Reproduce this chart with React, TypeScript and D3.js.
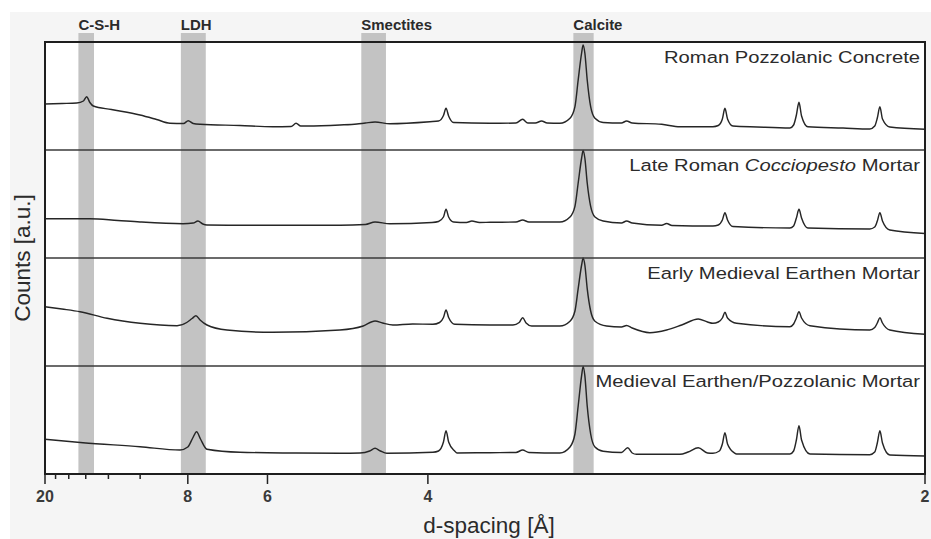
import React from "react";
import * as d3 from "d3";

// Cu K-alpha wavelength, used only to place d-spacing ticks on the 2-theta axis
const LAMBDA = 1.5406;
const twoTheta = (d: number) => (2 * Math.asin(LAMBDA / (2 * d)) * 180) / Math.PI;

const majorTicks = [20, 8, 6, 4, 2];
const minorTicks = [18, 16, 14, 12, 10];

// phase bands, in d-spacing [A] (upper, lower)
const bandNames = ["C-S-H", "LDH", "Smectites", "Calcite"];
const bandRanges: [number, number][] = [
  [14.8, 13.2],
  [8.24, 7.44],
  [4.64, 4.38],
  [3.08, 2.985],
];

const sampleNames = [
  "Roman Pozzolanic Concrete",
  "Late Roman Cocciopesto Mortar",
  "Early Medieval Earthen Mortar",
  "Medieval Earthen/Pozzolanic Mortar",
];

// [2theta (deg), counts a.u.]
const romanConcrete: [number, number][] = [
  [4.41, 46], [5.2, 46.5], [5.89, 47], [6.2, 49], [6.35, 53.3], [6.5, 47.5], [6.66, 44],
  [7.5, 40.5], [8.83, 35], [9.6, 30.5], [10.22, 26.7], [10.85, 26.5], [11.07, 29.3], [11.3, 26.5],
  [11.62, 25.7], [13.47, 24.5], [15.0, 23.3], [15.85, 23.5], [16.08, 26.7], [16.3, 24], [16.59, 24],
  [18.12, 25], [18.91, 26], [19.3, 27], [19.75, 28], [20.44, 26.3], [22.3, 28.3], [22.7, 29],
  [22.93, 34.5], [23.05, 41.7], [23.17, 34], [23.4, 27.5], [25.09, 26.7], [26.3, 27], [26.61, 30.7],
  [26.85, 27], [27.2, 27], [27.49, 29], [27.75, 27], [28.34, 26.7], [28.81, 31.7], [29.04, 43.3],
  [29.19, 70], [29.35, 97], [29.42, 105], [29.5, 97], [29.61, 70], [29.77, 43.3], [29.97, 31.7],
  [30.35, 27.5], [31.2, 27], [31.44, 29], [31.7, 27], [33.07, 25.7], [33.92, 23.3], [35.45, 23.3],
  [35.7, 24.5], [35.89, 31], [36.01, 41.7], [36.13, 31], [36.38, 24], [37.5, 23], [39.03, 22],
  [39.2, 25], [39.33, 35], [39.45, 47.7], [39.57, 34], [39.86, 23.3], [41.5, 22], [42.74, 21],
  [42.97, 24], [43.09, 32], [43.21, 43.3], [43.33, 31], [43.67, 23], [45.3, 20.7],
];

const lateRoman: [number, number][] = [
  [4.41, 39.3], [6.5, 39.3], [7.8, 37.5], [8.83, 36], [10.83, 34.3], [11.3, 35], [11.52, 37],
  [11.75, 34], [11.94, 33], [13.47, 32.7], [16, 32.7], [18.12, 32.7], [19.3, 33.5], [19.75, 36],
  [20.44, 34.3], [22.4, 35.5], [22.7, 36.5], [22.93, 41], [23.05, 48.7], [23.17, 41], [23.4, 36],
  [24.0, 35.5], [24.25, 37], [24.6, 35.5], [25.09, 35.7], [26.3, 36], [26.61, 38], [26.9, 36],
  [28.34, 36], [28.81, 41], [29.04, 51.6], [29.19, 75], [29.35, 100], [29.42, 107.5], [29.5, 100],
  [29.61, 75], [29.77, 51.6], [29.97, 41], [30.35, 37], [31.2, 35], [31.44, 37], [31.7, 35],
  [33.07, 32.7], [33.3, 34.5], [33.55, 32.5], [35.45, 32], [35.7, 33], [35.89, 38], [36.01, 45.3],
  [36.13, 38], [36.38, 31.5], [39.03, 30], [39.2, 32], [39.33, 40], [39.45, 48.7], [39.57, 40],
  [39.86, 30], [42.74, 29], [42.97, 31], [43.09, 37], [43.21, 45.3], [43.33, 37], [43.67, 28],
  [45.3, 24.5],
];

const earlyMedieval: [number, number][] = [
  [4.41, 59.3], [5.2, 57], [6.04, 54.3], [7.3, 47.7], [8.83, 42.7], [10.55, 40.3], [11.0, 43.5],
  [11.25, 47.5], [11.43, 50.3], [11.62, 46], [11.94, 41], [12.87, 36], [15.0, 33.7], [18.12, 36],
  [19.2, 40], [19.75, 45], [20.1, 43], [20.58, 41], [21.5, 42], [22.44, 41.7], [22.75, 43.5],
  [22.93, 48.5], [23.05, 56], [23.17, 48.5], [23.46, 41.7], [25.09, 41], [26.16, 41], [26.45, 43.5],
  [26.61, 48.3], [26.77, 43], [27.03, 40], [28.34, 40], [28.81, 44.8], [29.04, 55], [29.19, 77.4],
  [29.35, 101], [29.42, 108], [29.5, 101], [29.61, 77.4], [29.77, 55], [29.97, 44.8], [30.51, 40],
  [31.2, 39], [31.44, 40.5], [31.7, 38], [32.52, 33.3], [33.3, 36], [34.0, 41], [34.77, 47],
  [35.2, 44], [35.45, 42.7], [35.7, 44], [35.89, 48], [36.01, 53.7], [36.13, 48], [36.55, 42.7],
  [39.03, 39.3], [39.2, 42], [39.33, 48], [39.45, 54.3], [39.57, 48], [39.96, 40.3], [42.74, 36],
  [42.97, 38.5], [43.09, 43], [43.21, 48.3], [43.33, 43], [43.67, 36], [45.3, 31.7],
];

const medievalPozz: [number, number][] = [
  [4.41, 34.7], [6.18, 31.3], [8.83, 27.3], [10.69, 24], [11.05, 27], [11.28, 36], [11.46, 42.3],
  [11.64, 35], [11.94, 24.7], [13.47, 21.7], [16, 21], [18.12, 20.7], [19.05, 21], [19.5, 23],
  [19.75, 25.7], [20.0, 23], [20.3, 20.7], [22.44, 21.7], [22.7, 23], [22.93, 32], [23.05, 43.3],
  [23.17, 32], [23.45, 23], [23.56, 21], [25.09, 21.3], [26.3, 21.5], [26.61, 24], [26.9, 21.5],
  [28.34, 21], [28.81, 27], [29.04, 40], [29.19, 68], [29.35, 98.4], [29.42, 107.5], [29.5, 98.4],
  [29.61, 68], [29.77, 40], [29.97, 27], [30.35, 22.7], [31.2, 21.5], [31.49, 26.3], [31.7, 21],
  [31.9, 19.7], [33.92, 19.7], [34.3, 22], [34.77, 26.3], [35.2, 21], [35.45, 20.7], [35.75, 23],
  [35.89, 30], [36.01, 41.3], [36.13, 30], [36.45, 21], [36.55, 20], [39.03, 20], [39.2, 23],
  [39.33, 34], [39.45, 48.3], [39.57, 34], [39.96, 20], [42.74, 19.3], [42.97, 22], [43.09, 31],
  [43.21, 43.3], [43.33, 31], [43.67, 19], [45.3, 18],
];

const patterns = [romanConcrete, lateRoman, earlyMedieval, medievalPozz];

const W = 931, H = 539;
const left = 45, right = 925, top = 42, bottom = 474;
const font = "'Liberation Sans', Arial, Helvetica, sans-serif";
const ink = "#2b2b2b";

export default function App() {
  const x = d3.scaleLinear().domain([twoTheta(20), twoTheta(2)]).range([left, right]);
  const panels = d3.scaleBand<number>().domain(d3.range(4)).range([top, bottom]);
  const ph = panels.bandwidth();

  const title = (i: number) => {
    if (i === 1)
      return (
        <>
          Late Roman <tspan fontStyle="italic">Cocciopesto</tspan> Mortar
        </>
      );
    return sampleNames[i];
  };

  return (
    <svg width={W} height={H} style={{ position: "absolute", left: 0, top: 0 }} fontFamily={font}>
      <rect x={0} y={0} width={W} height={H} fill="#fff" />
      <rect x={10} y={12} width={W - 10} height={H - 12} fill="#f5f5f5" />
      <rect x={left} y={top} width={right - left} height={bottom - top} fill="#fff" />

      {bandRanges.map(([d0, d1], i) => {
        const x0 = x(twoTheta(d0));
        const x1 = x(twoTheta(d1));
        return (
          <g key={bandNames[i]}>
            <rect x={x0} y={33} width={x1 - x0} height={bottom - 33} fill="#c3c3c3" />
            <text transform={`translate(${x0},29.5) scale(1.07,1)`} fontSize={14} fontWeight="bold" fill={ink}>
              {bandNames[i]}
            </text>
          </g>
        );
      })}

      {patterns.map((data, i) => {
        const p0 = panels(i)!;
        const y = d3.scaleLinear().domain([0, 108]).range([p0 + ph, p0]);
        const line = d3
          .line<[number, number]>()
          .x((d) => x(d[0]))
          .y((d) => y(d[1]))
          .curve(d3.curveMonotoneX);
        return (
          <g key={i}>
            <path d={line(data)!} fill="none" stroke="#262626" strokeWidth={1.45} strokeLinejoin="round" />
            <text
              transform={`translate(${right - 5},${p0 + 21}) scale(1.225,1)`}
              textAnchor="end"
              fontSize={16.5}
              fill={ink}
            >
              {title(i)}
            </text>
            {i > 0 && <line x1={left} x2={right} y1={p0} y2={p0} stroke="#3a3a3a" strokeWidth={1.6} />}
          </g>
        );
      })}

      <rect x={left} y={top} width={right - left} height={bottom - top} fill="none" stroke="#1e1e1e" strokeWidth={2} />

      {minorTicks.map((d) => (
        <line key={`m${d}`} x1={x(twoTheta(d))} x2={x(twoTheta(d))} y1={bottom} y2={bottom + 5} stroke="#222" strokeWidth={1.5} />
      ))}
      {majorTicks.map((d) => (
        <g key={d} transform={`translate(${x(twoTheta(d))},${bottom})`}>
          <line y1={0} y2={10} stroke="#222" strokeWidth={1.5} />
          <text y={28} textAnchor="middle" fontSize={16} fontWeight="bold" fill="#3a3a3a">
            {d}
          </text>
        </g>
      ))}

      <text x={(left + right) / 2 + 4} y={533} textAnchor="middle" fontSize={22.5} fill={ink}>
        d-spacing [Å]
      </text>
      <text transform={`translate(29.5,${(top + bottom) / 2}) rotate(-90)`} textAnchor="middle" fontSize={22.5} fill={ink}>
        Counts [a.u.]
      </text>
    </svg>
  );
}
